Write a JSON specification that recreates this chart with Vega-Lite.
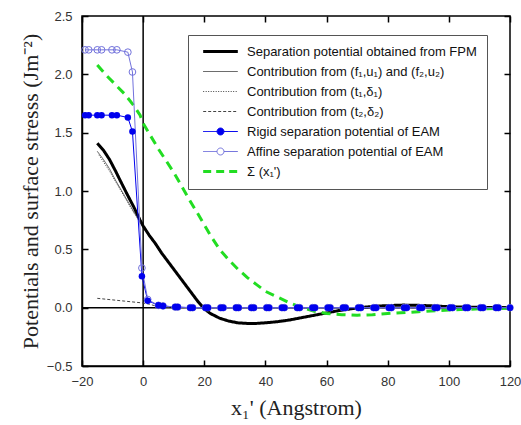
{
  "$schema": "https://vega.github.io/schema/vega-lite/v6.json",
  "width": 428,
  "height": 350,
  "autosize": {"type": "none"},
  "padding": {"left": 82, "top": 16, "right": 11, "bottom": 59},
  "background": "white",
  "datasets": {
    "curves": [
      {"s":"FU","x":-15,"y":1.34},{"s":"FU","x":-13,"y":1.27},{"s":"FU","x":-11,"y":1.19},{"s":"FU","x":-9,"y":1.09},{"s":"FU","x":-7,"y":1.0},{"s":"FU","x":-5,"y":0.91},{"s":"FU","x":-3,"y":0.82},{"s":"FU","x":-1,"y":0.74},{"s":"FU","x":0,"y":0.7},{"s":"FU","x":2,"y":0.62},{"s":"FU","x":4,"y":0.55},{"s":"FU","x":6,"y":0.47},{"s":"FU","x":8,"y":0.4},{"s":"FU","x":10,"y":0.33},{"s":"FU","x":12,"y":0.26},{"s":"FU","x":14,"y":0.19},{"s":"FU","x":16,"y":0.12},{"s":"FU","x":18,"y":0.05},{"s":"FU","x":20,"y":-0.01},
      {"s":"T1","x":-14.5,"y":1.31},{"s":"T1","x":-13,"y":1.25},{"s":"T1","x":-11,"y":1.17},{"s":"T1","x":-9,"y":1.08},{"s":"T1","x":-7,"y":0.99},{"s":"T1","x":-5,"y":0.9},{"s":"T1","x":-3,"y":0.81},{"s":"T1","x":-1,"y":0.73},{"s":"T1","x":0,"y":0.69},{"s":"T1","x":2,"y":0.61},{"s":"T1","x":4,"y":0.54},{"s":"T1","x":6,"y":0.46},{"s":"T1","x":8,"y":0.39},{"s":"T1","x":10,"y":0.32},{"s":"T1","x":12,"y":0.25},{"s":"T1","x":14,"y":0.18},{"s":"T1","x":16,"y":0.11},{"s":"T1","x":18,"y":0.04},{"s":"T1","x":20,"y":-0.02},
      {"s":"T2","x":-15,"y":0.08},{"s":"T2","x":-12,"y":0.072},{"s":"T2","x":-9,"y":0.064},{"s":"T2","x":-6,"y":0.056},{"s":"T2","x":-3,"y":0.048},{"s":"T2","x":0,"y":0.04},{"s":"T2","x":2,"y":0.03},{"s":"T2","x":4,"y":0.015},{"s":"T2","x":6,"y":0.005},{"s":"T2","x":10,"y":0.0},{"s":"T2","x":120,"y":0.0},
      {"s":"FPM","x":-15,"y":1.41},{"s":"FPM","x":-13,"y":1.35},{"s":"FPM","x":-11,"y":1.27},{"s":"FPM","x":-9,"y":1.17},{"s":"FPM","x":-7.5,"y":1.09},{"s":"FPM","x":-5,"y":0.96},{"s":"FPM","x":-3,"y":0.86},{"s":"FPM","x":-1,"y":0.75},{"s":"FPM","x":0,"y":0.7},{"s":"FPM","x":2,"y":0.62},{"s":"FPM","x":4,"y":0.55},{"s":"FPM","x":6,"y":0.47},{"s":"FPM","x":8,"y":0.4},{"s":"FPM","x":10,"y":0.33},{"s":"FPM","x":12,"y":0.26},{"s":"FPM","x":14,"y":0.19},{"s":"FPM","x":16,"y":0.12},{"s":"FPM","x":18,"y":0.05},{"s":"FPM","x":20,"y":-0.01},{"s":"FPM","x":22,"y":-0.05},{"s":"FPM","x":25,"y":-0.09},{"s":"FPM","x":28,"y":-0.115},{"s":"FPM","x":31,"y":-0.13},{"s":"FPM","x":34,"y":-0.135},{"s":"FPM","x":37,"y":-0.135},{"s":"FPM","x":40,"y":-0.13},{"s":"FPM","x":44,"y":-0.12},{"s":"FPM","x":48,"y":-0.105},{"s":"FPM","x":52,"y":-0.085},{"s":"FPM","x":56,"y":-0.065},{"s":"FPM","x":60,"y":-0.045},{"s":"FPM","x":64,"y":-0.025},{"s":"FPM","x":68,"y":-0.01},{"s":"FPM","x":72,"y":0.003},{"s":"FPM","x":76,"y":0.012},{"s":"FPM","x":80,"y":0.018},{"s":"FPM","x":85,"y":0.022},{"s":"FPM","x":90,"y":0.02},{"s":"FPM","x":95,"y":0.015},{"s":"FPM","x":100,"y":0.008},{"s":"FPM","x":110,"y":0.003},{"s":"FPM","x":120,"y":0.0},
      {"s":"Sigma","x":-15,"y":2.08},{"s":"Sigma","x":-12,"y":1.99},{"s":"Sigma","x":-9,"y":1.91},{"s":"Sigma","x":-6,"y":1.83},{"s":"Sigma","x":-3,"y":1.73},{"s":"Sigma","x":-1,"y":1.65},{"s":"Sigma","x":0,"y":1.58},{"s":"Sigma","x":2.5,"y":1.47},{"s":"Sigma","x":5,"y":1.36},{"s":"Sigma","x":7.5,"y":1.26},{"s":"Sigma","x":10,"y":1.16},{"s":"Sigma","x":12,"y":1.07},{"s":"Sigma","x":15,"y":0.93},{"s":"Sigma","x":18,"y":0.8},{"s":"Sigma","x":20,"y":0.71},{"s":"Sigma","x":22,"y":0.62},{"s":"Sigma","x":25,"y":0.5},{"s":"Sigma","x":28,"y":0.41},{"s":"Sigma","x":31,"y":0.33},{"s":"Sigma","x":34,"y":0.26},{"s":"Sigma","x":37,"y":0.2},{"s":"Sigma","x":40,"y":0.14},{"s":"Sigma","x":44,"y":0.09},{"s":"Sigma","x":48,"y":0.04},{"s":"Sigma","x":52,"y":0.0},{"s":"Sigma","x":56,"y":-0.03},{"s":"Sigma","x":60,"y":-0.05},{"s":"Sigma","x":65,"y":-0.06},{"s":"Sigma","x":70,"y":-0.065},{"s":"Sigma","x":75,"y":-0.06},{"s":"Sigma","x":80,"y":-0.05},{"s":"Sigma","x":90,"y":-0.035},{"s":"Sigma","x":100,"y":-0.02},{"s":"Sigma","x":110,"y":-0.01},{"s":"Sigma","x":120,"y":-0.005}
    ],
    "eam": [
      {"x":-19,"Rigid":1.65,"Affine":2.21},{"x":-17.8,"Rigid":1.65,"Affine":2.21},{"x":-15,"Rigid":1.65,"Affine":2.21},{"x":-13.6,"Rigid":1.65,"Affine":2.21},{"x":-10.2,"Rigid":1.65,"Affine":2.21},{"x":-8.6,"Rigid":1.65,"Affine":2.21},{"x":-5,"Rigid":1.63,"Affine":2.19},{"x":-3.5,"Rigid":1.51,"Affine":2.02},{"x":-0.4,"Rigid":0.27,"Affine":0.34},{"x":1.5,"Rigid":0.06,"Affine":0.07},{"x":5,"Rigid":0.02,"Affine":0.02},{"x":6.5,"Rigid":0.015,"Affine":0.015},{"x":10.5,"Rigid":0.005,"Affine":0.005},{"x":11.3,"Rigid":0.005,"Affine":0.005},
      {"x":15.4,"Rigid":0,"Affine":0},{"x":16.2,"Rigid":0,"Affine":0},{"x":20.4,"Rigid":0,"Affine":0},{"x":21.2,"Rigid":0,"Affine":0},{"x":25.4,"Rigid":0,"Affine":0},{"x":26.2,"Rigid":0,"Affine":0},{"x":30.4,"Rigid":0,"Affine":0},{"x":31.2,"Rigid":0,"Affine":0},{"x":35.4,"Rigid":0,"Affine":0},{"x":36.2,"Rigid":0,"Affine":0},{"x":40.4,"Rigid":0,"Affine":0},{"x":41.2,"Rigid":0,"Affine":0},{"x":45.4,"Rigid":0,"Affine":0},{"x":46.2,"Rigid":0,"Affine":0},{"x":50.4,"Rigid":0,"Affine":0},{"x":51.2,"Rigid":0,"Affine":0},{"x":55.4,"Rigid":0,"Affine":0},{"x":56.2,"Rigid":0,"Affine":0},{"x":60.4,"Rigid":0,"Affine":0},{"x":61.2,"Rigid":0,"Affine":0},{"x":65.4,"Rigid":0,"Affine":0},{"x":66.2,"Rigid":0,"Affine":0},{"x":70.4,"Rigid":0,"Affine":0},{"x":71.2,"Rigid":0,"Affine":0},{"x":75.4,"Rigid":0,"Affine":0},{"x":76.2,"Rigid":0,"Affine":0},{"x":80.4,"Rigid":0,"Affine":0},{"x":81.2,"Rigid":0,"Affine":0},{"x":85.4,"Rigid":0,"Affine":0},{"x":86.2,"Rigid":0,"Affine":0},{"x":90.4,"Rigid":0,"Affine":0},{"x":91.2,"Rigid":0,"Affine":0},{"x":95.4,"Rigid":0,"Affine":0},{"x":96.2,"Rigid":0,"Affine":0},{"x":100.4,"Rigid":0,"Affine":0},{"x":101.2,"Rigid":0,"Affine":0},{"x":105.4,"Rigid":0,"Affine":0},{"x":106.2,"Rigid":0,"Affine":0},{"x":110.4,"Rigid":0,"Affine":0},{"x":111.2,"Rigid":0,"Affine":0},{"x":115.4,"Rigid":0,"Affine":0},{"x":116.2,"Rigid":0,"Affine":0},{"x":120,"Rigid":0,"Affine":0}
    ]
  },
  "config": {
    "view": {"stroke": "black", "strokeWidth": 1.5},
    "axis": {
      "grid": false,
      "labelFlush": false,
      "domainColor": "black",
      "domainWidth": 1.5,
      "tickColor": "black",
      "tickWidth": 1.5,
      "tickSize": -6,
      "labelFont": "Liberation Sans",
      "labelFontSize": 13,
      "labelColor": "#333333",
      "titleFont": "Liberation Serif",
      "titleFontSize": 22,
      "titleFontWeight": "normal",
      "titleColor": "#222222"
    }
  },
  "resolve": {"axis": {"x": "independent", "y": "independent"}},
  "layer": [
    {
      "data": {"values": [{"x": 0}]},
      "mark": {"type": "rule", "color": "black", "strokeWidth": 1.5},
      "encoding": {
        "x": {"field": "x", "type": "quantitative", "scale": {"domain": [-20, 120], "nice": false},
              "axis": {"orient": "top", "labels": false, "title": null, "domain": false, "values": [-20, 0, 20, 40, 60, 80, 100, 120]}}
      }
    },
    {
      "data": {"values": [{"y": 0}]},
      "mark": {"type": "rule", "color": "black", "strokeWidth": 1.5},
      "encoding": {
        "y": {"field": "y", "type": "quantitative", "scale": {"domain": [-0.5, 2.5], "nice": false},
              "axis": {"orient": "right", "labels": false, "title": null, "domain": false, "values": [-0.5, 0, 0.5, 1, 1.5, 2, 2.5]}}
      }
    },
    {
      "data": {"name": "curves"},
      "mark": {"type": "line", "clip": true},
      "encoding": {
        "x": {"field": "x", "type": "quantitative", "scale": {"domain": [-20, 120], "nice": false},
              "axis": {"orient": "bottom", "title": "x₁'  (Angstrom)", "values": [-20, 0, 20, 40, 60, 80, 100, 120], "labelPadding": 15, "titlePadding": 9}},
        "y": {"field": "y", "type": "quantitative", "scale": {"domain": [-0.5, 2.5], "nice": false},
              "axis": {"orient": "left", "title": "Potentials and surface stresss  (Jm⁻²)", "values": [-0.5, 0, 0.5, 1, 1.5, 2, 2.5], "format": ".1f", "labelPadding": 16, "titlePadding": 4}},
        "color": {
          "field": "s", "type": "nominal",
          "scale": {"domain": ["FPM", "FU", "T1", "T2", "Rigid", "Affine", "Sigma"],
                    "range": ["#000000", "#555555", "#444444", "#444444", "#0000ee", "#7272dc", "#22dd22"]},
          "legend": {
            "orient": "none", "legendX": 106, "legendY": 19,
            "title": null,
            "padding": 10,
            "strokeColor": "#555555",
            "fillColor": "white",
            "symbolSize": 75,
            "symbolOffset": 16,
            "labelOffset": 20,
            "labelLimit": 400,
            "labelFont": "Liberation Sans",
            "labelFontSize": 13,
            "labelColor": "#111111",
            "rowPadding": 6,
            "labelExpr": "{'FPM':'Separation potential obtained from FPM','FU':'Contribution from (f₁,u₁) and (f₂,u₂)','T1':'Contribution from (t₁,δ₁)','T2':'Contribution from (t₂,δ₂)','Rigid':'Rigid separation potential of EAM','Affine':'Affine separation potential of EAM','Sigma':\"Σ (x₁')\"}[datum.label]",
            "encode": {
              "symbols": {
                "update": {
                  "shape": {"signal": "datum.value === 'Rigid' || datum.value === 'Affine' ? 'M-4,0H-0.8M0.8,0H4M-0.8,0A0.8,0.8,0,1,0,0.8,0A0.8,0.8,0,1,0,-0.8,0' : 'M-4,0H4'"},
                  "fill": {"signal": "datum.value === 'Rigid' ? '#0000ee' : 'transparent'"},
                  "strokeDash": {"signal": "datum.value === 'T1' ? [1,1.5] : datum.value === 'T2' ? [3,2] : datum.value === 'Sigma' ? [8,5] : [1,0]"},
                  "strokeWidth": {"signal": "datum.value === 'FPM' || datum.value === 'Sigma' ? 3 : 1"}
                }
              }
            }
          }
        },
        "strokeWidth": {"condition": {"test": "datum.s === 'FPM' || datum.s === 'Sigma'", "value": 3}, "value": 1},
        "strokeDash": {"condition": [
          {"test": "datum.s === 'T1'", "value": [1, 1.5]},
          {"test": "datum.s === 'T2'", "value": [3, 2]},
          {"test": "datum.s === 'Sigma'", "value": [9, 6]}
        ], "value": [1, 0]}
      }
    },
    {
      "data": {"name": "eam"},
      "transform": [{"fold": ["Rigid", "Affine"], "as": ["s", "y"]}],
      "mark": {"type": "line", "strokeWidth": 1},
      "encoding": {
        "x": {"field": "x", "type": "quantitative", "axis": null},
        "y": {"field": "y", "type": "quantitative", "axis": null},
        "color": {"field": "s", "type": "nominal"}
      }
    },
    {
      "data": {"name": "eam"},
      "mark": {"type": "point", "filled": false, "color": "#7272dc", "strokeWidth": 1, "size": 45, "opacity": 1},
      "encoding": {
        "x": {"field": "x", "type": "quantitative", "axis": null},
        "y": {"field": "Affine", "type": "quantitative", "axis": null}
      }
    },
    {
      "data": {"name": "eam"},
      "mark": {"type": "point", "filled": true, "color": "#0000ee", "size": 42, "opacity": 1},
      "encoding": {
        "x": {"field": "x", "type": "quantitative", "axis": null},
        "y": {"field": "Rigid", "type": "quantitative", "axis": null}
      }
    }
  ]
}
